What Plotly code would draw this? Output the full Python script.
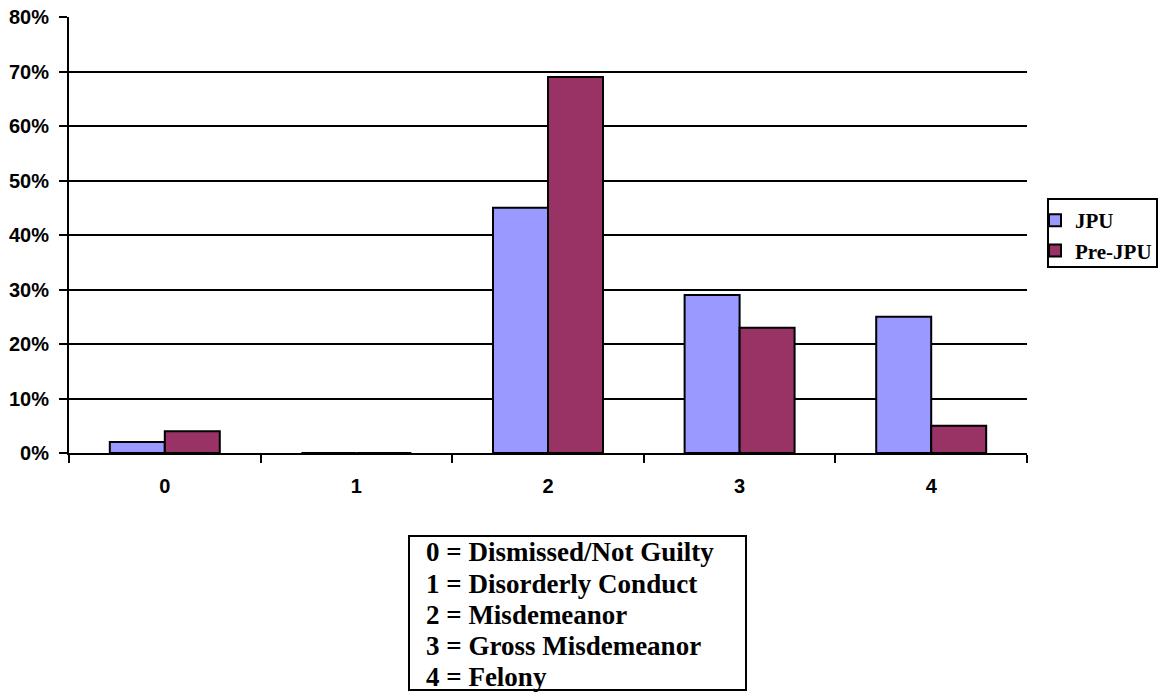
import plotly.graph_objects as go

categories = ["0", "1", "2", "3", "4"]
jpu = [2, 0, 45, 29, 25]
pre_jpu = [4, 0, 69, 23, 5]
y_ticks = [0, 10, 20, 30, 40, 50, 60, 70, 80]
y_tick_labels = [f"{v}%" for v in y_ticks]
key_lines = [
    "0 = Dismissed/Not Guilty",
    "1 = Disorderly Conduct",
    "2 = Misdemeanor",
    "3 = Gross Misdemeanor",
    "4 = Felony",
]

W, H = 1159, 692
L, R, T, B = 69, 132, 17, 239
plot_w = W - L - R
plot_h = H - T - B


def px_x(xp):
    return (xp - L) / plot_w


def px_y(yp):
    return (H - B - yp) / plot_h


fig = go.Figure()
fig.add_trace(go.Bar(x=categories, y=jpu, name="JPU",
                     marker=dict(color="#9999FF", line=dict(color="black", width=2))))
fig.add_trace(go.Bar(x=categories, y=pre_jpu, name="Pre-JPU",
                     marker=dict(color="#993366", line=dict(color="black", width=2))))

annotations = []
line_centers = [552, 584, 615, 646, 677]
for s, yc in zip(key_lines, line_centers):
    annotations.append(dict(
        text=f"<b>{s}</b>", xref="paper", yref="paper",
        x=px_x(424), y=px_y(yc), xanchor="left", yanchor="middle",
        showarrow=False, align="left",
        font=dict(family="Liberation Serif", size=27, color="black"),
    ))

fig.update_layout(
    width=W, height=H,
    margin=dict(l=L, r=R, t=T, b=B, autoexpand=False),
    paper_bgcolor="white", plot_bgcolor="white",
    barmode="group", bargap=0.426, bargroupgap=0,
    showlegend=True,
    legend=dict(x=px_x(1035), y=px_y(200), xanchor="left", yanchor="top",
                borderwidth=0, bgcolor="rgba(0,0,0,0)",
                font=dict(family="Liberation Serif", size=21, color="black", weight="bold"),
                traceorder="normal"),
    xaxis=dict(type="category", tickson="boundaries", ticks="outside", ticklen=8,
               tickwidth=2, tickcolor="black", showline=True, linecolor="black",
               linewidth=2, showgrid=False, automargin=False,
               tickfont=dict(family="Liberation Sans", size=20, color="black", weight="bold"),
               ticklabelstandoff=14),
    yaxis=dict(range=[0, 80], tickvals=y_ticks, ticktext=y_tick_labels,
               ticks="outside", ticklen=8, tickwidth=2, tickcolor="black",
               showline=True, linecolor="black", linewidth=2, automargin=False,
               showgrid=True, gridcolor="black", gridwidth=2, zeroline=False,
               tickfont=dict(family="Liberation Sans", size=20, color="black", weight="bold"),
               ticklabelstandoff=6),
    annotations=annotations,
    shapes=[
        dict(type="rect", xref="paper", yref="paper",
             x0=px_x(409), x1=px_x(746), y0=px_y(690), y1=px_y(536),
             line=dict(color="black", width=2), fillcolor="rgba(0,0,0,0)"),
        dict(type="rect", xref="paper", yref="paper",
             x0=px_x(1048), x1=px_x(1157), y0=px_y(267), y1=px_y(199),
             line=dict(color="black", width=2), fillcolor="rgba(0,0,0,0)"),
    ],
)

fig.write_html("out.html", config={"displayModeBar": False},
               post_script="document.body.style.margin='0';document.body.style.overflow='hidden';")
